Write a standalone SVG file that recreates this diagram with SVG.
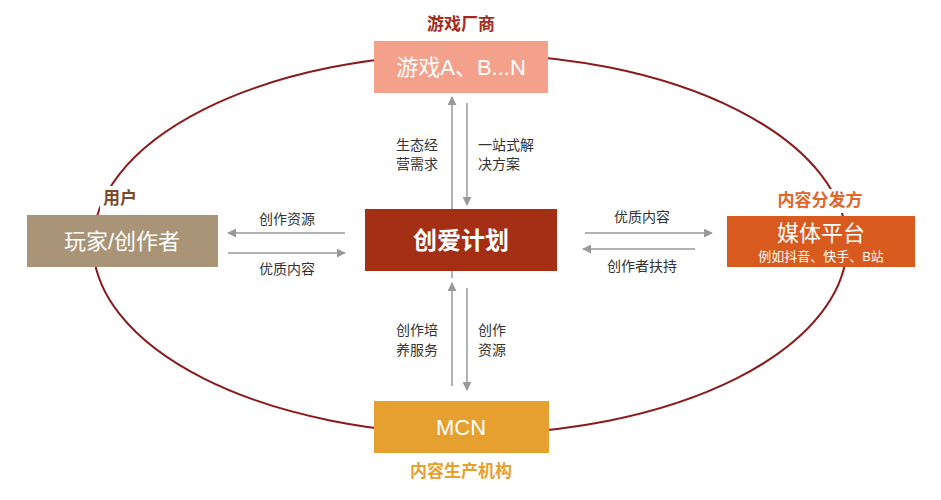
<svg xmlns="http://www.w3.org/2000/svg" width="941" height="500" viewBox="0 0 941 500">
<style>
text{font-family:"Liberation Sans","Noto Sans CJK SC",sans-serif}
.lbl{font-size:14px;fill:#333}
.box{font-size:22px;fill:#fff}
.ttl{font-size:17px;font-weight:bold}
.ar{stroke:#999;stroke-width:1.5;fill:none;marker-end:url(#ah)}
</style>
<defs><marker id="ah" viewBox="0 0 10 10" refX="9" refY="5" markerWidth="6" markerHeight="6" orient="auto"><path d="M0,0L10,5L0,10z" fill="#999"/></marker></defs>
<rect width="941" height="500" fill="#fff"/>
<ellipse cx="470" cy="244" rx="377" ry="190" fill="none" stroke="#8B1A1A" stroke-width="2"/>
<g id="connectors">
<line class="ar" x1="452" y1="278" x2="452" y2="97"/>
<line class="ar" x1="467" y1="103" x2="467" y2="205"/>
<line class="ar" x1="345" y1="233" x2="228" y2="233"/>
<line class="ar" x1="228" y1="253" x2="345" y2="253"/>
<line class="ar" x1="585" y1="233" x2="712" y2="233"/>
<line class="ar" x1="695" y1="249" x2="583" y2="249"/>
<line class="ar" x1="452" y1="386" x2="452" y2="283"/>
<line class="ar" x1="467" y1="288" x2="467" y2="390"/>
<text class="lbl" x="438" y="150" text-anchor="end">生态经</text>
<text class="lbl" x="438" y="169" text-anchor="end">营需求</text>
<text class="lbl" x="478" y="150">一站式解</text>
<text class="lbl" x="478" y="169">决方案</text>
<text class="lbl" x="287" y="224" text-anchor="middle">创作资源</text>
<text class="lbl" x="287" y="274" text-anchor="middle">优质内容</text>
<text class="lbl" x="642" y="222" text-anchor="middle">优质内容</text>
<text class="lbl" x="642" y="271" text-anchor="middle">创作者扶持</text>
<text class="lbl" x="438" y="335" text-anchor="end">创作培</text>
<text class="lbl" x="438" y="355" text-anchor="end">养服务</text>
<text class="lbl" x="478" y="335">创作</text>
<text class="lbl" x="478" y="355">资源</text>
</g>
<g id="game">
<text class="ttl" x="461" y="30" text-anchor="middle" fill="#A32A1A">游戏厂商</text>
<rect x="374" y="41" width="174" height="52" fill="#F3A18A"/>
<text class="box" x="461" y="75" text-anchor="middle">游戏A、B...N</text>
</g>
<g id="center">
<rect x="365" y="209" width="192" height="62" fill="#A52F14"/>
<text x="461" y="249" text-anchor="middle" font-size="24" font-weight="bold" fill="#fff">创爱计划</text>
</g>
<g id="user">
<rect x="100" y="186" width="40" height="24" fill="#fff"/>
<text class="ttl" x="120" y="204" text-anchor="middle" fill="#7A4A2A">用户</text>
<rect x="27" y="215" width="191" height="52" fill="#A99477"/>
<text class="box" x="122" y="249" text-anchor="middle">玩家/创作者</text>
</g>
<g id="media">
<rect x="775" y="189" width="90" height="24" fill="#fff"/>
<text class="ttl" x="820" y="206" text-anchor="middle" fill="#E0662A">内容分发方</text>
<rect x="727" y="216" width="188" height="51" fill="#D95A1E"/>
<text class="box" x="821" y="241" text-anchor="middle">媒体平台</text>
<text x="821" y="261" text-anchor="middle" font-size="13" fill="#fff">例如抖音、快手、B站</text>
</g>
<g id="mcn">
<rect x="374" y="401" width="175" height="52" fill="#E6A030"/>
<text class="box" x="461" y="435" text-anchor="middle">MCN</text>
<text class="ttl" x="461" y="477" text-anchor="middle" fill="#E6A030">内容生产机构</text>
</g>
</svg>
